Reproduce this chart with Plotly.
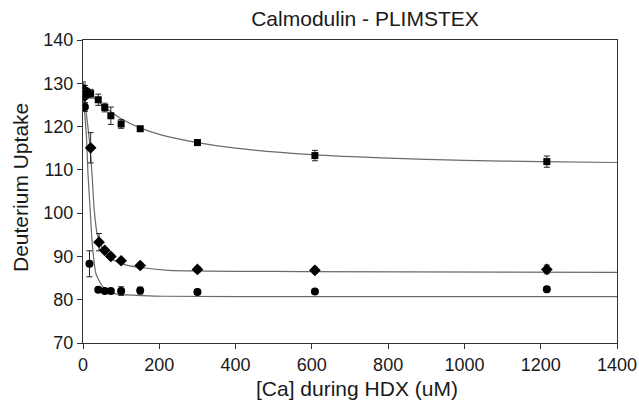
import plotly.graph_objects as go

# Data
sq_x = [0, 5, 10, 20, 40, 57, 73, 100, 150, 300, 608, 1216]
sq_y = [128.8, 128.3, 127.8, 127.6, 126.2, 124.4, 122.5, 120.6, 119.5, 116.3, 113.3, 111.9]
sq_e = [1.5, 1.2, 1.0, 1.0, 1.3, 1.0, 2.0, 1.0, 0.5, 0.6, 1.2, 1.3]

di_x = [0, 5, 20, 42, 57, 73, 100, 150, 300, 608, 1216]
di_y = [128.3, 127.0, 115.1, 93.3, 91.4, 90.0, 89.0, 87.9, 87.0, 86.8, 87.0]
di_e = [1.5, 1.5, 3.5, 2.0, 0.6, 0.5, 0.6, 0.6, 0.6, 0.7, 1.0]

ci_x = [0, 5, 17, 40, 57, 73, 100, 150, 300, 608, 1216]
ci_y = [127.5, 124.5, 88.3, 82.3, 82.0, 82.0, 82.0, 82.1, 81.8, 81.9, 82.4]
ci_e = [1.0, 1.0, 3.0, 0.3, 0.3, 0.3, 1.0, 0.8, 0.6, 0.5, 0.6]

# Fitted curves
fit_sq_x = [0, 20, 50, 100, 150, 200, 300, 400, 600, 800, 1000, 1200, 1400]
fit_sq_y = [128.5, 127.3, 125.0, 121.8, 119.7, 118.2, 116.3, 115.0, 113.5, 112.7, 112.2, 111.9, 111.7]

fit_di_x = [0, 8, 16.6, 23.6, 28.8, 37.6, 53, 74, 109, 145, 224, 569, 1400]
fit_di_y = [128.5, 123.5, 116.9, 109.1, 101.4, 95.0, 91.4, 89.5, 88.1, 87.5, 86.8, 86.5, 86.3]

fit_ci_x = [0, 5, 9.6, 13, 18.4, 23.6, 34, 53, 83, 140, 210, 600, 1400]
fit_ci_y = [128.0, 122.5, 116.9, 109.1, 101.4, 93.7, 86.0, 82.9, 81.4, 81.0, 80.8, 80.7, 80.7]

x_ticks = [0, 200, 400, 600, 800, 1000, 1200, 1400]
y_ticks = [70, 80, 90, 100, 110, 120, 130, 140]

line_col = "#6a6a6a"
fig = go.Figure()
for fx, fy in [(fit_sq_x, fit_sq_y), (fit_di_x, fit_di_y), (fit_ci_x, fit_ci_y)]:
    fig.add_trace(go.Scatter(x=fx, y=fy, mode="lines", line=dict(color=line_col, width=1.2, shape="spline", smoothing=0.6),
                             hoverinfo="skip", showlegend=False))

err_style = dict(type="data", color="#222", thickness=1, width=3)
fig.add_trace(go.Scatter(x=sq_x, y=sq_y, mode="markers", error_y=dict(array=sq_e, **err_style),
                         marker=dict(symbol="square", size=7, color="black"), showlegend=False))
fig.add_trace(go.Scatter(x=di_x, y=di_y, mode="markers", error_y=dict(array=di_e, **err_style),
                         marker=dict(symbol="diamond", size=9, color="black"), showlegend=False))
fig.add_trace(go.Scatter(x=ci_x, y=ci_y, mode="markers", error_y=dict(array=ci_e, **err_style),
                         marker=dict(symbol="circle", size=8, color="black"), showlegend=False))

font = "Liberation Sans, Arial, sans-serif"
txt = "#1a1a1a"
W, H = 639, 405
L, T, R, B = 83, 40, 22, 62
pw, ph = W - L - R, H - T - B
fig.update_layout(
    width=W, height=H,
    margin=dict(l=L, r=R, t=T, b=B),
    paper_bgcolor="white", plot_bgcolor="white",
    font=dict(family=font, size=18, color=txt),
    title=dict(text="Calmodulin - PLIMSTEX", x=(365 - L) / pw, xanchor="center", xref="paper",
               y=1 - 19 / H, yanchor="middle", font=dict(size=21, color=txt), automargin=False),
    xaxis=dict(range=[0, 1400], tickvals=x_ticks, ticktext=[str(v) for v in x_ticks],
               showgrid=False, zeroline=False, showline=True, linecolor="#333", linewidth=1.3, mirror=True,
               ticks="outside", ticklen=5, tickcolor="#333", tickfont=dict(size=18), automargin=False),
    yaxis=dict(range=[70, 140], tickvals=y_ticks, ticktext=[str(v) for v in y_ticks],
               showgrid=False, zeroline=False, showline=True, linecolor="#333", linewidth=1.3, mirror=True,
               ticks="outside", ticklen=5, tickcolor="#333", tickfont=dict(size=18), automargin=False),
    annotations=[
        dict(text="[Ca] during HDX (uM)", xref="paper", yref="paper", x=(357 - L) / pw, y=-(388 - (T + ph)) / ph,
             xanchor="center", yanchor="middle", showarrow=False, font=dict(size=21, color=txt)),
        dict(text="Deuterium Uptake", xref="paper", yref="paper", x=(20 - L) / pw, y=((T + ph) - 188) / ph,
             xanchor="center", yanchor="middle", textangle=-90, showarrow=False, font=dict(size=21, color=txt)),
    ],
)
fig.write_html("out.html", config={"displayModeBar": False},
               post_script="document.body.style.margin='0';document.body.style.overflow='hidden';")
